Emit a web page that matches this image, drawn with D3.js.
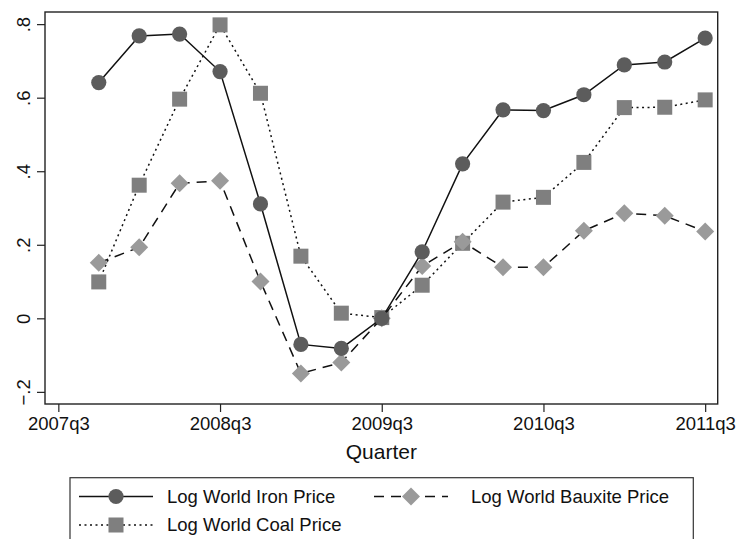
<!DOCTYPE html>
<html>
<head>
<meta charset="utf-8">
<script src="https://cdn.jsdelivr.net/npm/d3@7"></script>
<style>
  body { margin: 0; background: #fff; }
  svg { display: block; font-family: "Liberation Sans", Arial, sans-serif; }
</style>
</head>
<body>
<svg id="chart"></svg>
<script>
// Quarters and series values
const quarters = ["2007q4", "2008q1", "2008q2", "2008q3", "2008q4", "2009q1", "2009q2", "2009q3",
  "2009q4", "2010q1", "2010q2", "2010q3", "2010q4", "2011q1", "2011q2", "2011q3"];
const ironPrice = [0.641, 0.768, 0.773, 0.671, 0.311, -0.071, -0.082, 0.0,
  0.181, 0.420, 0.567, 0.565, 0.608, 0.689, 0.697, 0.762];
const coalPrice = [0.099, 0.362, 0.596, 0.798, 0.612, 0.169, 0.014, 0.002,
  0.090, 0.204, 0.316, 0.329, 0.424, 0.573, 0.574, 0.594];
const bauxitePrice = [0.151, 0.193, 0.367, 0.374, 0.100, -0.150, -0.120, 0.0,
  0.142, 0.208, 0.139, 0.139, 0.238, 0.286, 0.279, 0.236];
const xTickLabels = ["2007q3", "2008q3", "2009q3", "2010q3", "2011q3"];
const yTicks = [-0.2, 0, 0.2, 0.4, 0.6, 0.8];
const seriesNames = ["Log World Iron Price", "Log World Bauxite Price", "Log World Coal Price"];

const width = 738, height = 539;
const plot = { left: 45, top: 12, right: 717.7, bottom: 404 };

// quarter string -> index, 2007q3 = 0
const qIndex = s => (+s.slice(0, 4) - 2007) * 4 + (+s.slice(5)) - 3;

const x = d3.scaleLinear().domain([-0.33, 16.31]).range([plot.left, plot.right]);
const y = d3.scaleLinear().domain([-0.233, 0.833]).range([plot.bottom, plot.top]);

const svg = d3.select("#chart").attr("width", width).attr("height", height);

// frame
svg.append("rect")
  .attr("x", plot.left).attr("y", plot.top)
  .attr("width", plot.right - plot.left).attr("height", plot.bottom - plot.top)
  .attr("fill", "none").attr("stroke", "#222").attr("stroke-width", 1.4);

// x-axis
const xAxis = svg.append("g")
  .attr("transform", `translate(0,${plot.bottom})`)
  .call(d3.axisBottom(x)
    .tickValues(xTickLabels.map(qIndex))
    .tickFormat(v => xTickLabels[xTickLabels.map(qIndex).indexOf(v)])
    .tickSize(8).tickPadding(5));
xAxis.select(".domain").remove();
xAxis.selectAll(".tick line").attr("stroke", "#222").attr("stroke-width", 1.2);
xAxis.selectAll(".tick text").attr("font-size", 18.5).attr("fill", "#111").attr("font-family", "Liberation Sans, Arial");

// y-axis
const yFmt = v => v === 0 ? "0" : d3.format(".1f")(v).replace("0.", ".");
const yAxis = svg.append("g")
  .attr("transform", `translate(${plot.left},0)`)
  .call(d3.axisLeft(y).tickValues(yTicks).tickFormat(yFmt).tickSize(8).tickPadding(7));
yAxis.select(".domain").remove();
yAxis.selectAll(".tick line").attr("stroke", "#222").attr("stroke-width", 1.2);
yAxis.selectAll(".tick text")
  .attr("font-size", 18.5).attr("fill", "#111").attr("font-family", "Liberation Sans, Arial")
  .attr("x", null).attr("dy", null)
  .attr("text-anchor", "middle")
  .attr("transform", "translate(-15,0) rotate(-90)");

// x title
svg.append("text")
  .attr("x", (plot.left + plot.right) / 2).attr("y", 459)
  .attr("text-anchor", "middle").attr("font-size", 21).attr("fill", "#111")
  .text("Quarter");

const styles = [
  { values: ironPrice, dash: null, color: "#5c5c5c", shape: "circle" },
  { values: bauxitePrice, dash: "10,7", color: "#9a9a9a", shape: "diamond" },
  { values: coalPrice, dash: "2,3.5", color: "#7f7f7f", shape: "square" }
];

const drawMarker = (g, shape, color) => {
  if (shape === "circle") g.append("circle").attr("r", 7.6).attr("fill", color);
  else if (shape === "square") g.append("rect").attr("x", -7.5).attr("y", -7.5).attr("width", 15).attr("height", 15).attr("fill", color);
  else g.append("path").attr("d", "M0,-9L9,0L0,9L-9,0Z").attr("fill", color);
};

const line = d3.line().x(d => x(qIndex(d.q))).y(d => y(d.v));

// draw order: coal, bauxite, iron (iron on top)
[2, 1, 0].forEach(i => {
  const s = styles[i];
  const pts = quarters.map((q, j) => ({ q, v: s.values[j] }));
  svg.append("path").datum(pts)
    .attr("fill", "none").attr("stroke", "#111").attr("stroke-width", 1.5)
    .attr("stroke-dasharray", s.dash)
    .attr("d", line);
  pts.forEach(p => {
    const g = svg.append("g").attr("transform", `translate(${x(qIndex(p.q))},${y(p.v)})`);
    drawMarker(g, s.shape, s.color);
  });
});

// legend
svg.append("rect")
  .attr("x", 70).attr("y", 477.7).attr("width", 693.3 - 70).attr("height", 80)
  .attr("fill", "none").attr("stroke", "#333").attr("stroke-width", 1.2);

const legendPos = [
  { x0: 79, x1: 153, tx: 167, y: 496.5 },
  { x0: 374, x1: 448, tx: 471, y: 496.5 },
  { x0: 79, x1: 153, tx: 167, y: 525 }
];
legendPos.forEach((p, i) => {
  const s = styles[i];
  svg.append("line")
    .attr("x1", p.x0).attr("x2", p.x1).attr("y1", p.y).attr("y2", p.y)
    .attr("stroke", "#111").attr("stroke-width", 1.5).attr("stroke-dasharray", s.dash);
  const g = svg.append("g").attr("transform", `translate(${(p.x0 + p.x1) / 2},${p.y})`);
  drawMarker(g, s.shape, s.color);
  svg.append("text")
    .attr("x", p.tx).attr("y", p.y).attr("dy", "0.35em")
    .attr("font-size", 18.5).attr("fill", "#111")
    .text(seriesNames[i]);
});
</script>
</body>
</html>
